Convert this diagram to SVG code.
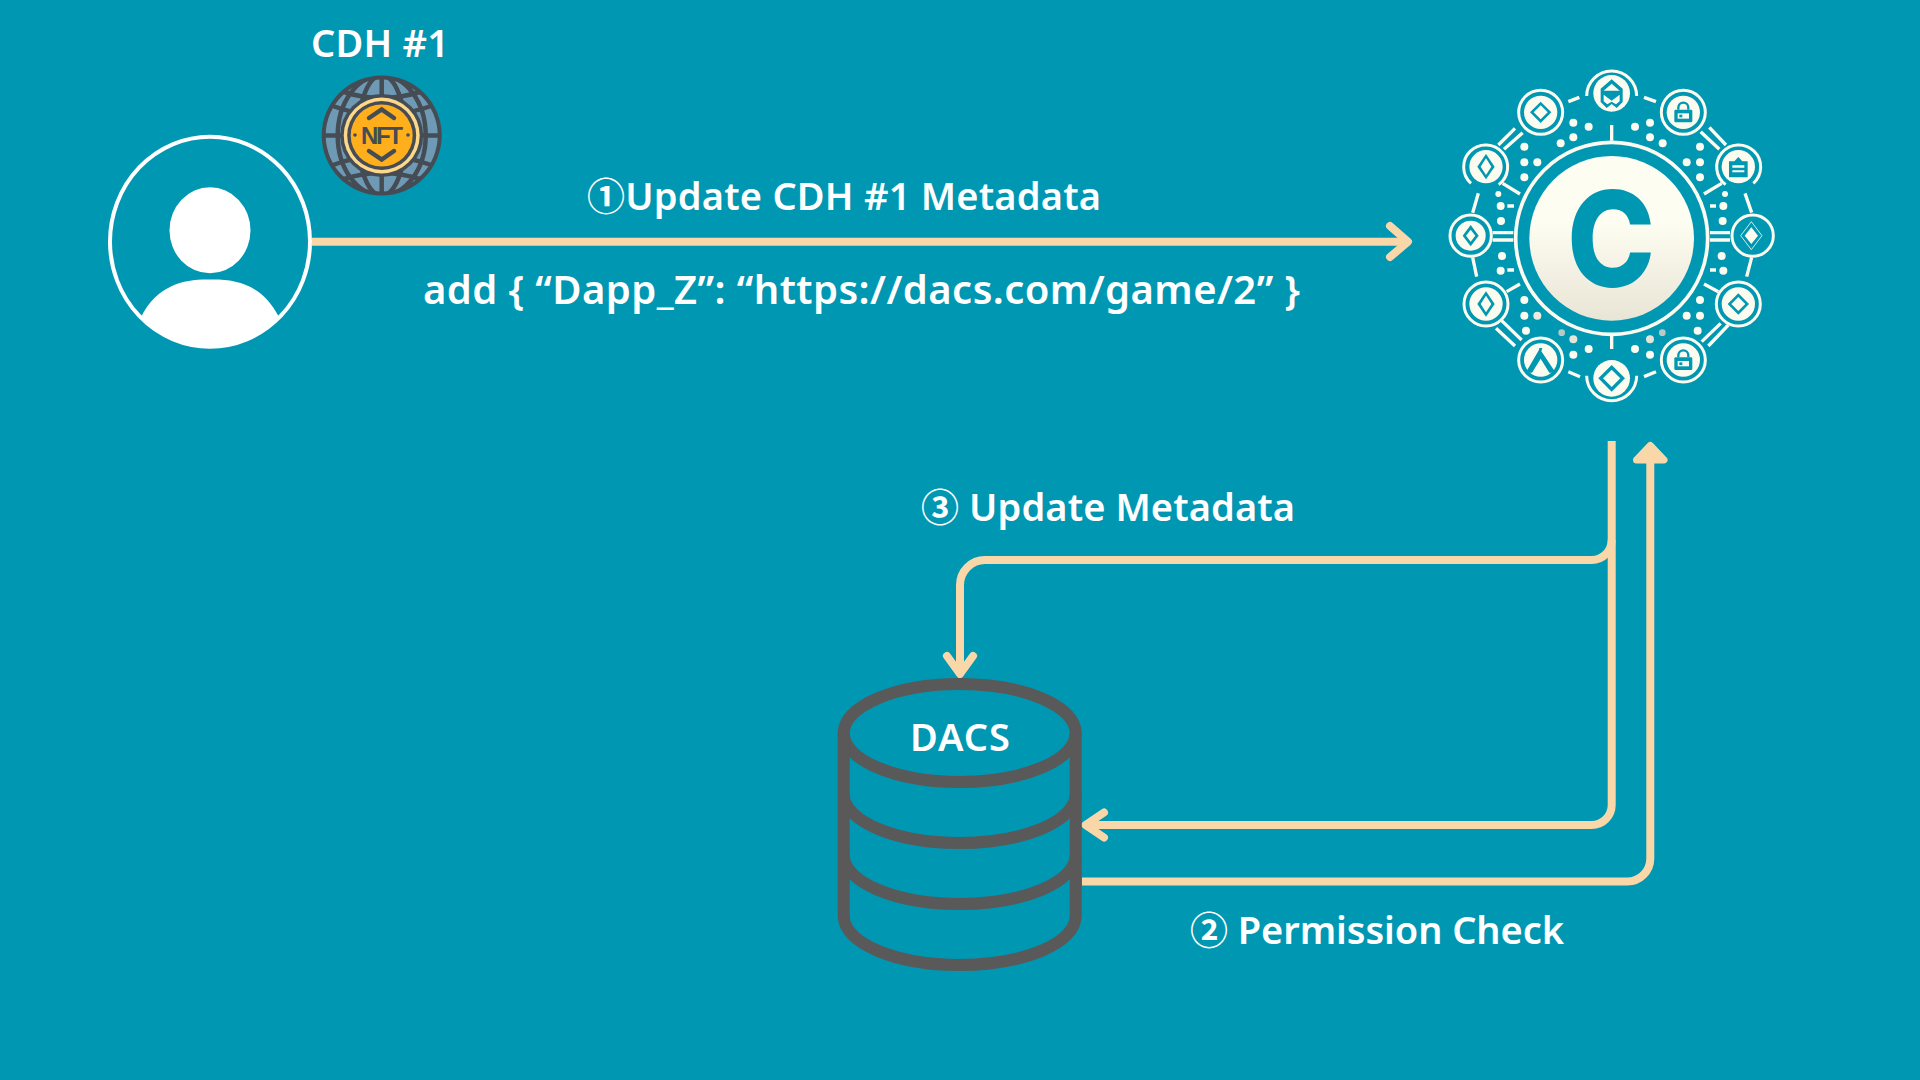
<svg xmlns="http://www.w3.org/2000/svg" width="1920" height="1080" viewBox="0 0 1920 1080">
<style>
.t{font-family:"Noto Sans","Noto Sans CJK JP",sans-serif;font-weight:600;font-size:38px;fill:#fff}
.c{fill:none;stroke:#FAD7A8;stroke-width:8}
.h{fill:none;stroke:#FAD7A8;stroke-width:8;stroke-linecap:round;stroke-linejoin:round}
.db{fill:none;stroke:#595959;stroke-width:12}
.l{fill:none;stroke:#FBFBEF;stroke-width:9}
.dk{fill:none;stroke:#FBFBEF;stroke-width:10}
.w{fill:#FBFBEF}
.b{fill:#0097B2}
.bs{fill:none;stroke:#0097B2;stroke-width:7}
.n{fill:none;stroke:#454C54;stroke-width:4.5}
</style>
<defs>
<linearGradient id="disc" x1="0" y1="0" x2="0" y2="1"><stop offset="0.4" stop-color="#FDFDF1"/><stop offset="1" stop-color="#E9E5D6"/></linearGradient>
<g id="dia"><circle r="50" class="w"/><path d="M0-32L32 0 0 32-32 0Z" class="b"/><path d="M0-21L21 0 0 21-21 0Z" class="w"/></g>
<g id="diat"><circle r="50" class="w"/><path d="M0-38L26 0 0 38-26 0Z" class="b"/><path d="M0-25L16 0 0 25-16 0Z" class="w"/></g>
<g id="lock"><circle r="50" class="w"/><path d="M-15-8V-14a15 15 0 0 1 30 0V-8" class="bs"/><rect x="-27" y="-8" width="54" height="38" rx="4" class="b"/><rect x="-17" y="3" width="34" height="16" class="w"/><rect x="-12" y="7" width="9" height="8" class="b"/></g>
<clipPath id="glb"><circle cx="381.7" cy="135.5" r="58"/></clipPath>
<clipPath id="pc"><ellipse cx="210" cy="241.7" rx="100" ry="105"/></clipPath>
</defs>
<rect width="1920" height="1080" fill="#0097B2"/>

<g id="connectors">
<path class="c" d="M312 241.7H1405"/>
<path class="h" d="M1390 226L1408 241.7L1390 257"/>
<path class="c" d="M1611.7 441V805a20 20 0 0 1-20 20H1086"/>
<path class="h" d="M1104 812.500L1085.500 825L1104 837.500"/>
<path class="c" d="M1611.7 540a20 20 0 0 1-20 20H985a25 25 0 0 0-25 25V672"/>
<path class="h" d="M947 656L960 674L973 656"/>
<path class="c" d="M1082 881.500H1627a23 23 0 0 0 23.3-23V455"/>
<path d="M1650.3 445.500L1664 460H1636.500Z" fill="#FAD7A8" stroke="#FAD7A8" stroke-width="7" stroke-linejoin="round"/>
</g>

<g id="user">
<ellipse cx="210" cy="241.7" rx="100" ry="105" fill="none" stroke="#fff" stroke-width="4"/>
<ellipse cx="210" cy="230.300" rx="40.500" ry="43" fill="#fff"/>
<path clip-path="url(#pc)" d="M141 317C158 284 185 279 210 279.500C236 279 262 284 279 317L290 360H130Z" fill="#fff"/>
</g>

<g id="nft">
<circle cx="381.7" cy="135.500" r="60" fill="#454C54"/>
<circle cx="381.7" cy="135.500" r="56" fill="#6F9AB5"/>
<g clip-path="url(#glb)" class="n">
<path class="n" d="M381.700 76V195M322 135.500H442"/>
<ellipse class="n" cx="381.700" cy="135.500" rx="24" ry="60"/>
<ellipse class="n" cx="381.700" cy="135.500" rx="44" ry="60"/>
<path class="n" d="M330 105Q381 125 434 105M330 166Q381 146 434 166M344 92Q381 104 420 92M344 179Q381 167 420 179"/>
</g>
<circle cx="381.700" cy="135.500" r="41.500" fill="#454C54"/>
<circle cx="381.700" cy="135.500" r="38" fill="#FDD88A"/>
<circle cx="381.700" cy="135.500" r="34.500" fill="#454C54"/>
<circle cx="381.700" cy="135.500" r="31" fill="#FFAE1C"/>
<path class="n" d="M369 118L381.700 109.500L394 118M369 151L381.700 159.500L394 151" stroke-linecap="round"/>
<circle cx="355" cy="135" r="1.800" fill="#454C54"/><circle cx="408" cy="135" r="1.800" fill="#454C54"/>
<text x="361" y="144" textLength="42" font-family="'Liberation Sans',sans-serif" font-weight="700" font-size="24" fill="#454C54">NFT</text>
<text class="t" x="311" y="56.500" textLength="138">CDH #1</text>
</g>

<g id="logo" transform="translate(1430 50) scale(.33333)">
<circle cx="545" cy="565" r="288" fill="none" stroke="#FBFBEF" stroke-width="11"/>
<circle cx="545" cy="565" r="247" fill="url(#disc)"/>
<text transform="translate(543 710) scale(.89 1)" text-anchor="middle" font-family="Inter,'Liberation Sans',sans-serif" font-weight="800" font-size="400" fill="#0097B2">C</text>
<path class="dk" d="M545 225V272M545 855V897M188 548H250M188 570H250M840 548H900M840 570H900M218 400L270 432M875 400L822 432M270 702L230 725M822 702L865 725"/>
<path class="dk" d="M278 248L222 298M255 235L205 285M812 245L868 298M838 232L888 285M215 812L275 870M198 835L255 888M872 820L815 875M895 825L835 888"/>
<path class="dk" d="M415 155L448 142M642 142L678 155M415 965L450 980M642 980L678 965M145 430L128 488M945 430L965 488M128 622L140 680M965 622L950 680M232 468H252M840 468H858M232 660H252M840 660H858"/>
<g class="w">
<circle cx="430" cy="218" r="12"/><circle cx="476" cy="230" r="12"/><circle cx="430" cy="262" r="12"/><circle cx="392" cy="280" r="12"/>
<circle cx="615" cy="230" r="12"/><circle cx="660" cy="218" r="12"/><circle cx="660" cy="262" r="12"/><circle cx="698" cy="280" r="12"/>
<circle cx="283" cy="290" r="12"/><circle cx="283" cy="337" r="12"/><circle cx="322" cy="337" r="12"/><circle cx="283" cy="382" r="12"/>
<circle cx="810" cy="290" r="12"/><circle cx="770" cy="337" r="12"/><circle cx="810" cy="337" r="12"/><circle cx="810" cy="382" r="12"/>
<circle cx="205" cy="432" r="9"/><circle cx="212" cy="468" r="12"/><circle cx="213" cy="513" r="12"/>
<circle cx="885" cy="432" r="9"/><circle cx="880" cy="468" r="12"/><circle cx="878" cy="513" r="12"/>
<circle cx="216" cy="618" r="12"/><circle cx="212" cy="662" r="12"/><circle cx="875" cy="618" r="12"/><circle cx="880" cy="662" r="12"/>
<circle cx="283" cy="750" r="12"/><circle cx="283" cy="797" r="12"/><circle cx="322" cy="797" r="12" fill="#EDEBDD"/><circle cx="288" cy="842" r="12"/>
<circle cx="810" cy="750" r="12"/><circle cx="770" cy="797" r="12"/><circle cx="810" cy="797" r="12"/><circle cx="803" cy="842" r="12"/>
<circle cx="395" cy="848" r="10" fill="#B9C9C6"/><circle cx="430" cy="868" r="12" fill="#E4E5D8"/><circle cx="476" cy="897" r="12"/><circle cx="430" cy="914" r="12"/>
<circle cx="697" cy="848" r="10" fill="#B9C9C6"/><circle cx="660" cy="868" r="12" fill="#E4E5D8"/><circle cx="615" cy="897" r="12"/><circle cx="660" cy="914" r="12"/>
</g>

<g id="sat-top" transform="translate(545 130)">
<path class="l" d="M-75 10A75 75 0 0 1 75 10" transform="translate(0 -2)"/>
<circle r="55" class="w"/>
<path d="M0-42L33-14V26L15 44 0 32-15 44-33 26V-14Z" class="b"/>
<path d="M0-29L24-8H-24ZM-24 4L0 22 24 4 24 24 13 33 0 25-13 33-24 24Z" class="w"/>
</g>
<g id="sat-bottom" transform="translate(545 985)">
<path class="l" d="M-75-10A75 75 0 0 0 75-10" transform="translate(0 2)"/>
<circle r="55" class="w"/>
<path d="M0-40L40 0 0 40-40 0Z" class="b"/><path d="M0-26L26 0 0 26-26 0Z" class="w"/>
</g>
<g id="sat-tl" transform="translate(332 187)"><circle r="66" class="l"/><use href="#dia"/></g>
<g id="sat-tr" transform="translate(760 187)"><circle r="66" class="l"/><use href="#lock"/></g>
<g id="sat-l2" transform="translate(168 350)"><path class="l" d="M-45 50A66 66 0 1 1 38 54"/><use href="#diat"/></g>
<g id="sat-r2" transform="translate(925 350)"><path class="l" d="M-38 54A66 66 0 1 1 45 50"/><circle r="50" class="w"/><path d="M0-29L12-16H28V32H-28V-16H-12Z" class="b"/><path d="M-18-4H18V3H-18ZM-18 11H18V17H-18Z" class="w"/></g>
<g id="sat-l" transform="translate(122 557)"><circle r="62" class="l"/><circle r="45" class="w"/><path d="M0-32L24 0 0 32-24 0Z" class="b"/><path d="M0-18L14 0 0 18-14 0Z" class="w"/></g>
<g id="sat-r" transform="translate(968 557)"><circle r="62" class="l"/><path d="M-4-25L16 0-4 25-24 0Z" class="w"/><path d="M-4-42L28 0-4 42-36 0Z" fill="none" stroke="#FBFBEF" stroke-width="2.500"/></g>
<g id="sat-l4" transform="translate(168 762)"><circle r="66" class="l"/><use href="#diat"/></g>
<g id="sat-r4" transform="translate(925 762)"><circle r="66" class="l"/><use href="#dia"/></g>
<g id="sat-bl" transform="translate(332 930)"><circle r="66" class="l"/><circle r="50" class="w"/><path d="M-3-34L-45 38H-26L0 -4 26 38H45Z" class="b"/><path d="M-5-36H5L2-26H-2Z" class="b"/></g>
<g id="sat-br" transform="translate(760 930)"><circle r="66" class="l"/><use href="#lock"/></g>
</g>

<g id="dacs">
<ellipse class="db" cx="959.700" cy="733" rx="116" ry="49"/>
<path class="db" d="M843.700 733V916C843.700 943 895 965 959.700 965S1075.700 943 1075.700 916V733"/>
<path class="db" d="M843.700 794C843.700 821 895 843 959.700 843S1075.700 821 1075.700 794"/>
<path class="db" d="M843.700 855C843.700 882 895 904 959.700 904S1075.700 882 1075.700 855"/>
<text class="t" x="910" y="751" textLength="100">DACS</text>
</g>

<g id="labels">
<text class="t" x="587" y="210" textLength="514">①Update CDH #1 Metadata</text>
<text class="t" style="font-size:40px" x="423" y="304" textLength="877">add { “Dapp_Z”: “https://dacs.com/game/2” }</text>
<text class="t" x="921" y="520.500" textLength="374">③ Update Metadata</text>
<text class="t" x="1190" y="943.500" textLength="374">② Permission Check</text>
</g>
</svg>
